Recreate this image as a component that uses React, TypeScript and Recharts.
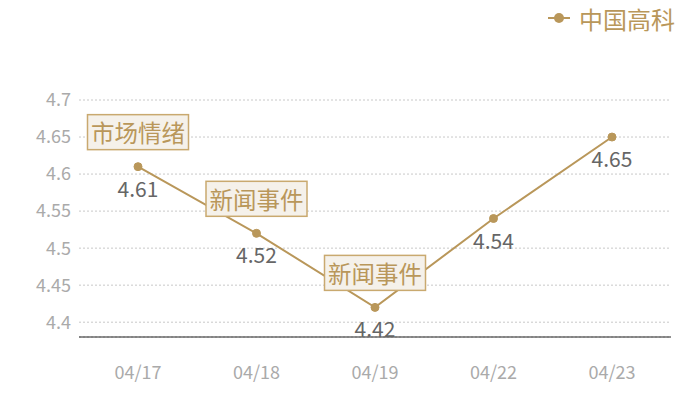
import { CartesianGrid, LabelList, Line, LineChart, XAxis, YAxis } from "recharts";

const DATES = ["04/17", "04/18", "04/19", "04/22", "04/23"];
const PRICES = [4.61, 4.52, 4.42, 4.54, 4.65];
const EVENTS = ["市场情绪", "新闻事件", "新闻事件", "", ""];
const Y_TICKS = [4.4, 4.45, 4.5, 4.55, 4.6, 4.65, 4.7];

const GOLD = "#b9975a";
const FONT = "'Noto Sans CJK SC', 'Noto Sans', sans-serif";

const data = DATES.map((d, i) => ({ date: d, price: PRICES[i], event: EVENTS[i] }));

function ValueLabel(props) {
  const { x, y, value } = props;
  return (
    <text x={x} y={y + 21} textAnchor="middle" dominantBaseline="central" fill="#666" fontSize={21} fontFamily={FONT}>
      {value}
    </text>
  );
}

function EventLabel(props) {
  const { x, y, value } = props;
  if (!value) return null;
  const w = 101;
  const h = 35;
  const bottom = y - 17;
  return (
    <g>
      <rect x={x - w / 2} y={bottom - h} width={w} height={h} fill="#f5f1ea" stroke="#c9a96f" strokeWidth={1.5} />
      <text x={x} y={bottom - h / 2} textAnchor="middle" dominantBaseline="central" fill={GOLD} fontSize={23.5} fontFamily={FONT}>
        {value}
      </text>
    </g>
  );
}

function LegendBox() {
  return (
    <svg width={150} height={36} style={{ position: "absolute", left: 545, top: 0 }}>
      <line x1={3} y1={18} x2={25} y2={18} stroke={GOLD} strokeWidth={2} />
      <circle cx={14} cy={18} r={5} fill={GOLD} />
      <text x={34} y={18} dominantBaseline="central" fill={GOLD} fontSize={24} fontFamily={FONT}>
        中国高科
      </text>
    </svg>
  );
}

export default function App() {
  return (
    <div style={{ position: "absolute", left: 0, top: 0, width: 700, height: 400, background: "#fff" }}>
      <LineChart width={700} height={400} data={data} margin={{ top: 100, right: 29, left: 0, bottom: 0 }}>
        <CartesianGrid vertical={false} stroke="#c8c8c8" strokeDasharray="2 2" />
        <XAxis
          dataKey="date"
          height={63}
          padding={{ left: 59, right: 59 }}
          axisLine={{ stroke: "#222" }}
          tickLine={false}
          tickMargin={23}
          tick={{ fill: "#aaa", fontSize: 18, fontFamily: FONT }}
        />
        <YAxis
          width={79}
          domain={[4.38, 4.7]}
          ticks={Y_TICKS}
          axisLine={false}
          tickLine={false}
          tick={{ fill: "#aaa", fontSize: 18, fontFamily: FONT }}
        />
        <Line
          type="linear"
          dataKey="price"
          name="中国高科"
          stroke={GOLD}
          strokeWidth={2}
          dot={{ r: 4, fill: GOLD, stroke: GOLD, strokeWidth: 1 }}
          activeDot={false}
          isAnimationActive={false}
        >
          <LabelList dataKey="price" content={ValueLabel} />
          <LabelList dataKey="event" content={EventLabel} />
        </Line>
      </LineChart>
      <LegendBox />
    </div>
  );
}
